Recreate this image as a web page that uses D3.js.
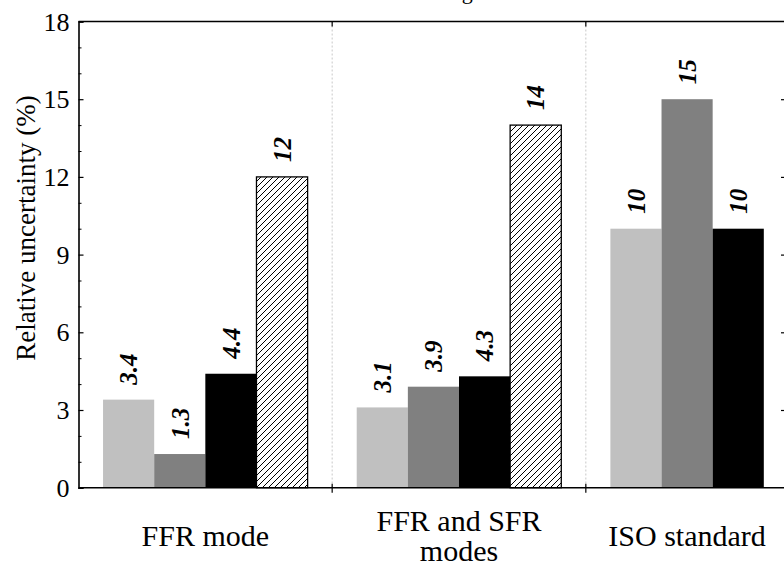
<!DOCTYPE html>
<html><head><meta charset="utf-8">
<script src="https://cdn.jsdelivr.net/npm/d3@7"></script>
<style>
body{margin:0;background:#fff}
svg{display:block}
text{font-family:"Liberation Serif","Times New Roman",Times,serif;fill:#000}
</style>
</head><body>
<svg id="chart" width="784" height="567"></svg>
<script>
// ---- data ----
const categories = ["FFR mode", "FFR and SFR modes", "ISO standard"];
const categoryLines = [["FFR mode"], ["FFR and SFR", "modes"], ["ISO standard"]];
const seriesNames = ["Series 1", "Series 2", "Series 3", "Series 4"];
const series1 = [3.4, 3.1, 10];
const series2 = [1.3, 3.9, 15];
const series3 = [4.4, 4.3, 10];
const series4 = [12, 14, null];
const valueLabels1 = ["3.4", "3.1", "10"];
const valueLabels2 = ["1.3", "3.9", "15"];
const valueLabels3 = ["4.4", "4.3", "10"];
const valueLabels4 = ["12", "14", null];
const yTickValues = [0, 3, 6, 9, 12, 15, 18];
const yTickLabels = ["0", "3", "6", "9", "12", "15", "18"];
const yMinorTicks = d3.range(0, 19, 1);
const yLabel = "Relative uncertainty (%)";
const titleText = "Budget";

(function () {
const allSeries = [series1, series2, series3, series4];
const allLabels = [valueLabels1, valueLabels2, valueLabels3, valueLabels4];
const fills = ["#c0c0c0", "#808080", "#000000", "url(#hatch)"];

// ---- layout ----
const svg = d3.select("#chart");
const mLeft = 78.5, mRight = 839.5, mTop = 21.5, mBottom = 487.7;

const x = d3.scaleBand().domain(categories).range([mLeft, mRight]).padding(0);
const inner = d3.scaleBand().domain(d3.range(seriesNames.length))
  .range([0, x.bandwidth()]).paddingInner(0).paddingOuter(0.48);
const y = d3.scaleLinear().domain([0, 18]).range([mBottom, mTop]);

const defs = svg.append("defs");
const pat = defs.append("pattern").attr("id", "hatch")
  .attr("patternUnits", "userSpaceOnUse").attr("width", 6).attr("height", 6);
pat.append("rect").attr("width", 6).attr("height", 6).attr("fill", "#fff");
pat.append("path").attr("d", "M0,6 L6,0 M-1,1 L1,-1 M5,7 L7,5")
  .attr("stroke", "#000").attr("stroke-width", 1);

// title (mostly outside the frame, as in the reference)
svg.append("text").attr("x", 425).attr("y", -1)
  .attr("font-size", 22).text(titleText);

// separators (dotted)
const seps = categories.slice(1).map(c => x(c));
svg.selectAll(".sep").data(seps).enter().append("line")
  .attr("x1", d => d).attr("x2", d => d).attr("y1", mTop).attr("y2", mBottom)
  .attr("stroke", "#c8c8c8").attr("stroke-width", 1).attr("stroke-dasharray", "2,2");

// bars
const barData = [];
categories.forEach((c, ci) => {
  allSeries.forEach((s, si) => {
    if (s[ci] != null) barData.push({c, ci, si, v: s[ci], label: allLabels[si][ci]});
  });
});

svg.selectAll(".bar").data(barData).enter().append("rect")
  .attr("x", d => x(d.c) + inner(d.si))
  .attr("width", inner.bandwidth())
  .attr("y", d => y(d.v))
  .attr("height", d => y(0) - y(d.v))
  .attr("fill", d => fills[d.si])
  .attr("stroke", d => d.si === 3 ? "#000" : "none")
  .attr("stroke-width", 1.3);

// value labels
svg.selectAll(".vl").data(barData).enter().append("text")
  .attr("transform", d => `translate(${x(d.c) + inner(d.si) + inner.bandwidth() / 2},${y(d.v) - 15}) rotate(-90)`)
  .attr("dy", "0.35em")
  .attr("text-anchor", "start")
  .attr("font-size", 25).attr("font-weight", "bold").attr("font-style", "italic")
  .text(d => d.label);

// frame lines
svg.append("line").attr("x1", mLeft).attr("x2", 784).attr("y1", mTop).attr("y2", mTop)
  .attr("stroke", "#000").attr("stroke-width", 1.6);
svg.append("line").attr("x1", mLeft).attr("x2", 784).attr("y1", mBottom).attr("y2", mBottom)
  .attr("stroke", "#000").attr("stroke-width", 1.6);

// left axis
const yAxis = d3.axisRight(y).tickValues(yTickValues).tickSize(5).tickFormat("");
const gl = svg.append("g").attr("transform", `translate(${mLeft},0)`).call(yAxis);
gl.select(".domain").attr("stroke-width", 1.6);
gl.selectAll(".tick line").attr("stroke-width", 1.2);
const yMinor = d3.axisRight(y).tickValues(yMinorTicks.filter(v => v % 3 !== 0)).tickSize(3).tickFormat("");
const gm = svg.append("g").attr("transform", `translate(${mLeft},0)`).call(yMinor);
gm.select(".domain").remove();

svg.selectAll(".ytl").data(yTickValues).enter().append("text")
  .attr("x", mLeft - 9).attr("y", d => y(d)).attr("dy", "0.35em")
  .attr("text-anchor", "end").attr("font-size", 26)
  .text((d, i) => yTickLabels[i]);

// right side ticks (visible portion)
const yRight = d3.axisLeft(y).tickValues(yTickValues.slice(1, -1)).tickSize(5).tickFormat("");
const gr = svg.append("g").attr("transform", `translate(786,0)`).call(yRight);
gr.select(".domain").remove();
gr.selectAll(".tick line").attr("stroke-width", 1.2);

// x ticks at separators
svg.selectAll(".xtb").data(seps).enter().append("line")
  .attr("x1", d => d).attr("x2", d => d).attr("y1", mBottom - 4).attr("y2", mBottom + 5)
  .attr("stroke", "#000").attr("stroke-width", 1.2);
svg.selectAll(".xtt").data(seps).enter().append("line")
  .attr("x1", d => d).attr("x2", d => d).attr("y1", mTop).attr("y2", mTop + 5)
  .attr("stroke", "#000").attr("stroke-width", 1.2);

// category labels (centered under drawn bars)
categories.forEach((c, ci) => {
  const present = allSeries.map((s, si) => s[ci] != null ? si : -1).filter(v => v >= 0);
  const x0 = x(c) + inner(present[0]);
  const x1 = x(c) + inner(present[present.length - 1]) + inner.bandwidth();
  const cx = (x0 + x1) / 2;
  const lines = categoryLines[ci];
  const lh = 30;
  const startY = 546 - (lines.length - 1) * lh / 2;
  const t = svg.append("text").attr("text-anchor", "middle").attr("font-size", 30);
  lines.forEach((ln, li) => {
    t.append("tspan").attr("x", cx).attr("y", startY + li * lh).text(ln);
  });
});

// y axis title
svg.append("text")
  .attr("transform", `translate(35,228) rotate(-90)`)
  .attr("text-anchor", "middle").attr("font-size", 27)
  .text(yLabel);
})();
</script>
</body></html>
